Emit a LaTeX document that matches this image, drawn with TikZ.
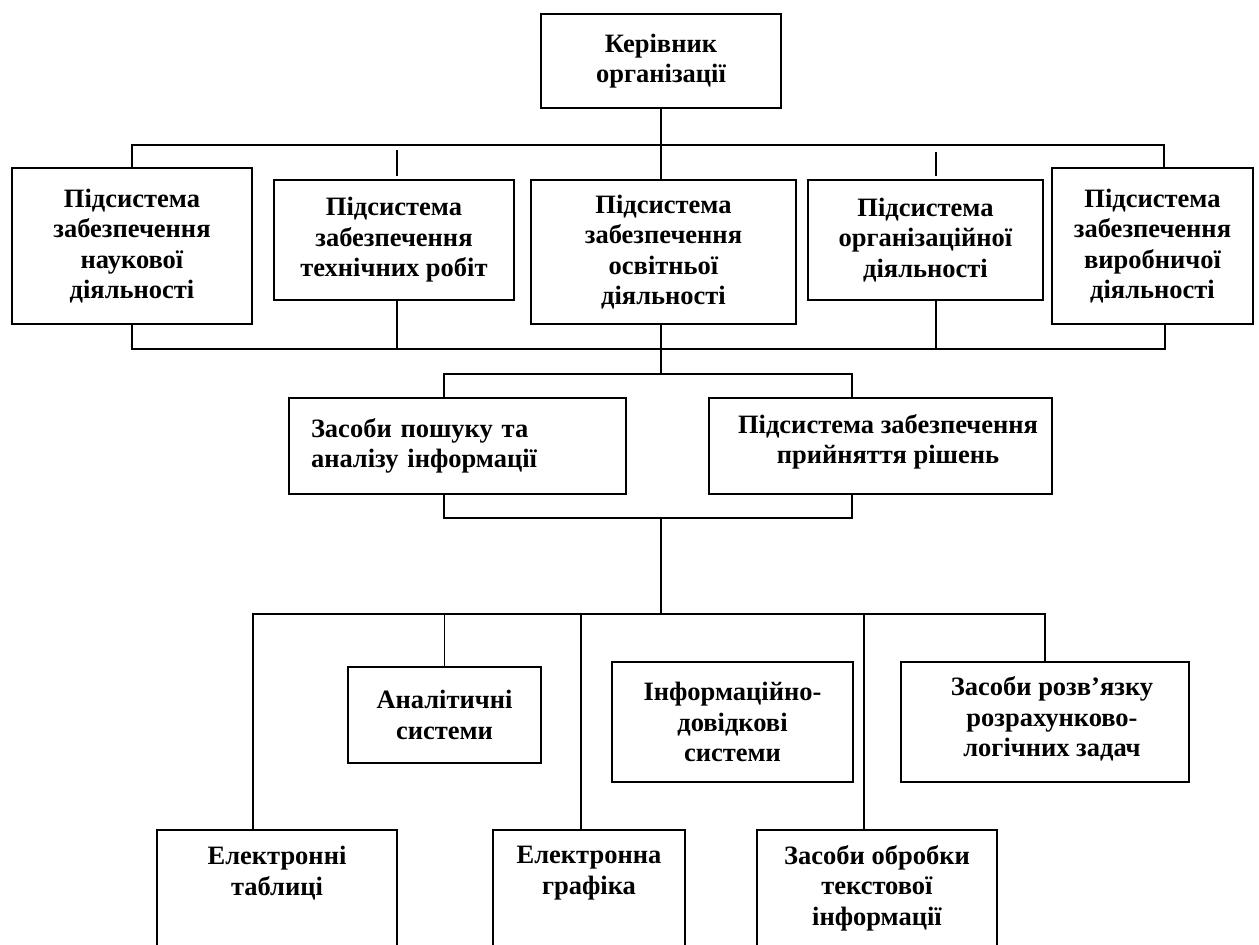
\documentclass[tikz,border=0pt]{standalone}
\usepackage{fontspec}
\setmainfont{Liberation Serif}
\begin{document}
\begin{tikzpicture}[x=1pt,y=-1pt,
  wire/.style={line width=1.8pt, line join=miter},
  box/.style={draw, line width=1.8pt, inner sep=0pt, align=center,
    font=\bfseries\fontsize{26.5}{30.5}\selectfont},
  lbl/.style={inner sep=0pt, align=center,
    font=\bfseries\fontsize{26.5}{30.5}\selectfont}]
\clip (0,0) rectangle (1259,945);
\fill[white] (0,0) rectangle (1259,945);

% head of the organisation
\node[box, minimum width=240, minimum height=94] (boss) at (661,61)
  {Керівник\\організації};

% first level: subsystems
\node[box, minimum width=240, minimum height=156] (s1) at (132,246)
  {Підсистема\\забезпечення\\наукової\\діяльності};
\node[box, minimum width=240, minimum height=120] (s2) at (394,240)
  {Підсистема\\забезпечення\\технічних робіт};
\node[box, minimum width=265, minimum height=144] (s3) at (663.5,252)
  {Підсистема\\забезпечення\\освітньої\\діяльності};
\node[box, minimum width=235, minimum height=120] (s4) at (925.5,240)
  {Підсистема\\організаційної\\діяльності};
\node[box, minimum width=201, minimum height=156] (s5) at (1152.5,246)
  {Підсистема\\забезпечення\\виробничої\\діяльності};

% second level
\node[box, text width=293, inner xsep=22, align=left, minimum height=96] (m1) at (457.5,446)
  {Засоби пошуку та\\аналізу інформації};
\node[box, minimum width=343, minimum height=96] (m2) at (880.5,446) {};
\node[lbl] (m2t) at (888,442) {Підсистема забезпечення\\прийняття рішень};

% third level, upper row
\node[box, minimum width=193, minimum height=96] (an) at (444.5,715)
  {Аналітичні\\системи};
\node[box, minimum width=241, minimum height=120] (inf) at (732.5,722)
  {Інформаційно-\\довідкові\\системи};
\node[box, minimum width=288, minimum height=120] (rz) at (1045,722) {};
\node[lbl] (rzt) at (1052,719) {Засоби розв’язку\\розрахунково-\\логічних задач};

% third level, lower row (runs past the bottom edge)
\node[box, minimum width=240, minimum height=140] (et) at (277,900) {};
\node[lbl] (ett) at (277,873) {Електронні\\таблиці};
\node[box, minimum width=192, minimum height=140] (eg) at (589,900) {};
\node[lbl] (egt) at (589,873) {Електронна\\графіка};
\node[box, minimum width=240, minimum height=140] (zo) at (877,900) {};
\node[lbl] (zot) at (877,888) {Засоби обробки\\текстової\\інформації};

% bus points
\coordinate (busTL) at (132,145);
\coordinate (busTR) at (1164,145);
\coordinate (busBL) at (132,349);
\coordinate (busBR) at (1165,349);
\coordinate (st2a) at (397,150);
\coordinate (st2b) at (397,176);
\coordinate (st4a) at (936,152);
\coordinate (st4b) at (936,176);
\coordinate (brTL) at (444,374);
\coordinate (brTR) at (852,374);
\coordinate (brBL) at (444,518);
\coordinate (brBR) at (852,518);
\coordinate (busLL) at (253,614);
\coordinate (busLR) at (1045,614);
\coordinate (vEG) at (581,614);
\coordinate (vZO) at (864,614);

% top bus
\draw[wire] (s1.north) -- (busTL) -- (busTR) -- (busTR |- s5.north);
\draw[wire] (boss.south) -- (boss.south |- s3.north);
\draw[wire] (st2a) -- (st2b);
\draw[wire] (st4a) -- (st4b);

% bottom bus of the first level
\draw[wire] (s1.south) -- (busBL) -- (busBR) -- (busBR |- s5.south);
\draw[wire] (st2a |- s2.south) -- (st2a |- busBL);
\draw[wire] (st4a |- s4.south) -- (st4a |- busBL);
\draw[wire] (boss.south |- s3.south) -- (boss.south |- brTL);

% second level brackets
\draw[wire] (brTL |- m1.north) -- (brTL) -- (brTR) -- (brTR |- m2.north);
\draw[wire] (brBL |- m1.south) -- (brBL) -- (brBR) -- (brBR |- m2.south);
\draw[wire] (boss.south |- brBL) -- (boss.south |- busLL);

% third level bus
\draw[wire] (busLL |- et.north) -- (busLL) -- (busLR) -- (rz.north);
\draw[wire] (an.north |- busLL) -- (an.north);
\draw[wire] (vEG) -- (vEG |- eg.north);
\draw[wire] (vZO) -- (vZO |- zo.north);
\end{tikzpicture}
\end{document}
